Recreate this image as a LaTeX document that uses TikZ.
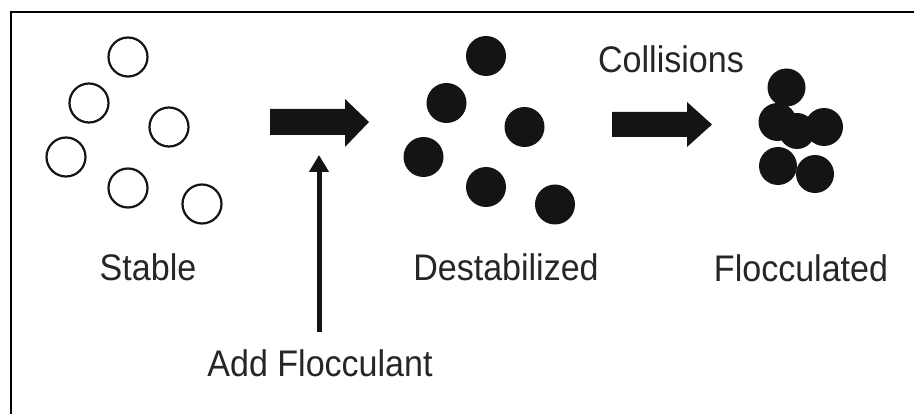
\documentclass[tikz,border=0pt]{standalone}
\usepackage{fontspec}
\newfontfamily\labfont[FakeStretch=0.92]{Liberation Sans}
\usetikzlibrary{arrows.meta}
\definecolor{ink}{gray}{0.08}
\definecolor{txt}{gray}{0.15}
\tikzset{
  openp/.style={circle, draw=ink, line width=2.2pt, minimum size=39pt, inner sep=0pt},
  fillp/.style={circle, fill=ink, minimum size=40pt, inner sep=0pt},
  clp/.style={circle, fill=ink, minimum size=38pt, inner sep=0pt},
  lab/.style={anchor=base, inner sep=0pt, text=txt, font=\labfont\fontsize{37}{40}\selectfont},
  bigarrow/.style={fill=ink},
  thinarrow/.style={draw=ink, line width=5pt, -{Triangle[width=19pt,length=17pt]}}
}
\begin{document}
\begin{tikzpicture}[x=1pt,y=-1pt]
\useasboundingbox (0,0) rectangle (914,414);
\fill[white] (0,0) rectangle (914,414);
% frame (top and left edges visible)
\draw[line width=1.6pt, black] (914,12) -- (11,12) -- (11,414);
% stable particles
\node[openp] (s1) at (128,57) {};
\node[openp] (s2) at (89,103) {};
\node[openp] (s3) at (169,127) {};
\node[openp] (s4) at (66,157) {};
\node[openp] (s5) at (128,188) {};
\node[openp] (s6) at (202,204) {};
% destabilized particles
\node[fillp] (d1) at (486,56) {};
\node[fillp] (d2) at (446.5,103) {};
\node[fillp] (d3) at (524.5,127) {};
\node[fillp] (d4) at (423.5,157) {};
\node[fillp] (d5) at (486,187) {};
\node[fillp] (d6) at (555,204.5) {};
% flocculated cluster
\node[circle, fill=ink, minimum size=36pt, inner sep=0pt] (fc) at (797,131) {};
\node[clp] (f1) at (786.5,87.5) {};
\node[clp] (f2) at (777.5,122) {};
\node[clp] (f3) at (824,127) {};
\node[clp] (f4) at (778,166) {};
\node[clp] (f5) at (815,174) {};
% block arrows
\fill[bigarrow] (270,109) -- (345,109) -- (345,99) -- (369,122) -- (345,147) -- (345,135) -- (270,135) -- cycle;
\fill[bigarrow] (612,112) -- (687,112) -- (687,102) -- (712,124.5) -- (687,147) -- (687,137) -- (612,137) -- cycle;
% labels
\node[lab] (stable) at (148,281) {Stable};
\node[lab] (destab) at (506,281) {Destabilized};
\node[lab] (floc) at (801,282) {Flocculated};
\node[lab] (coll) at (671,73) {Collisions};
\node[lab] (add) at (320,377) {Add Flocculant};
% flocculant arrow
\coordinate (addtop) at (319,332);
\coordinate (addtip) at (319,155);
\draw[thinarrow] (addtop) -- (addtip);
\end{tikzpicture}
\end{document}
